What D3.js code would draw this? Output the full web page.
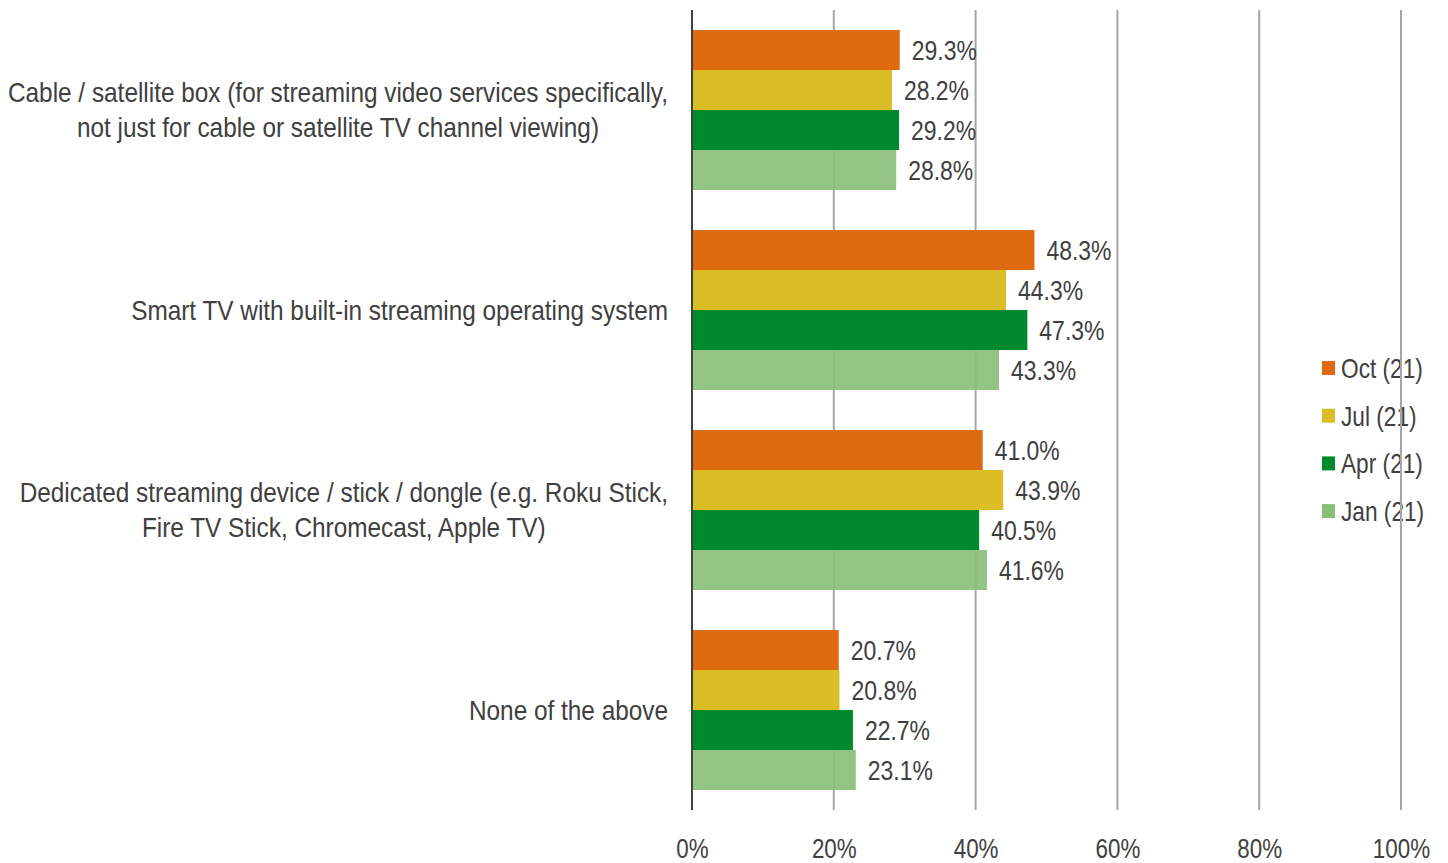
<!doctype HTML>
<html>
<head>
    <style>
        body { margin: 0; background: #fff; }
        text { font-family: "Liberation Sans", Arial, sans-serif; fill: #404040; }
    </style>
    <script src="https://d3js.org/d3.v7.min.js"></script>
</head>
<body>
<div id="chart"></div>
<script>

    // data
    var categories = [
        ["Cable / satellite box (for streaming video services specifically,", "not just for cable or satellite TV channel viewing)"],
        ["Smart TV with built-in streaming operating system"],
        ["Dedicated streaming device / stick / dongle (e.g. Roku Stick,", "Fire TV Stick, Chromecast, Apple TV)"],
        ["None of the above"]
    ];
    var series = ["Oct (21)", "Jul (21)", "Apr (21)", "Jan (21)"];
    var octValues = [29.3, 48.3, 41.0, 20.7];
    var julValues = [28.2, 44.3, 43.9, 20.8];
    var aprValues = [29.2, 47.3, 40.5, 22.7];
    var janValues = [28.8, 43.3, 41.6, 23.1];
    var ticks = [0, 20, 40, 60, 80, 100];
    var colors = ["#e06a10", "#dbbd25", "#008a2e", "#8abf78"];

    var allValues = [octValues, julValues, aprValues, janValues];

    // the original font is a narrow one, so squeeze Liberation Sans sideways
    var fontSize = "28px";

    var svg = d3.select("#chart").append("svg")
        .attr("width", 1448)
        .attr("height", 863);

    var x = d3.scaleLinear().domain([0, 100]).range([692, 1401]);
    var y = d3.scaleBand()
        .domain(d3.range(categories.length))
        .range([10, 810])
        .paddingInner(0.2)
        .paddingOuter(0.1);
    var ySub = d3.scaleBand()
        .domain(series)
        .range([0, y.bandwidth()]);
    var color = d3.scaleOrdinal().domain(series).range(colors);

    // legend
    var legend = svg.append("g")
        .selectAll("g")
        .data(series)
        .join("g")
        .attr("transform", (d, i) => `translate(1322, ${368 + i * 47.7})`);
    legend.append("rect")
        .attr("x", 0).attr("y", -7)
        .attr("width", 13).attr("height", 14)
        .attr("fill", d => color(d));
    legend.append("text")
        .attr("transform", "translate(19, 0) scale(0.81, 1)")
        .attr("dy", "0.35em")
        .attr("font-size", fontSize)
        .text(d => d);

    // gridlines
    svg.append("g")
        .selectAll("line")
        .data(ticks.slice(1))
        .join("line")
        .attr("x1", d => x(d)).attr("x2", d => x(d))
        .attr("y1", 10).attr("y2", 810)
        .attr("stroke", "#a6a6a6")
        .attr("stroke-width", 2);

    // bars
    var rows = [];
    categories.forEach(function(c, ci) {
        series.forEach(function(s, si) {
            rows.push({cat: ci, key: s, value: allValues[si][ci]});
        });
    });

    svg.append("g")
        .selectAll("rect")
        .data(rows)
        .join("rect")
        .attr("x", x(0))
        .attr("y", d => y(d.cat) + ySub(d.key))
        .attr("width", d => x(d.value) - x(0))
        .attr("height", ySub.bandwidth())
        .attr("fill", d => color(d.key))
        .attr("fill-opacity", d => d.key === "Jan (21)" ? 0.92 : 1);

    svg.append("g")
        .selectAll("text")
        .data(rows)
        .join("text")
        .attr("transform", d => `translate(${x(d.value) + 12}, ${y(d.cat) + ySub(d.key) + ySub.bandwidth() / 2}) scale(0.82, 1)`)
        .attr("dy", "0.35em")
        .attr("font-size", fontSize)
        .text(d => d.value.toFixed(1) + "%");

    // zero axis
    svg.append("line")
        .attr("x1", x(0)).attr("x2", x(0))
        .attr("y1", 10).attr("y2", 810)
        .attr("stroke", "#404040")
        .attr("stroke-width", 2);

    // category labels: block right-aligned, lines centred inside the block
    var catText = svg.append("g")
        .selectAll("text")
        .data(categories)
        .join("text")
        .attr("text-anchor", "middle")
        .attr("font-size", fontSize)
        .attr("transform", (d, i) => `translate(668, ${y(i) + y.bandwidth() / 2}) scale(0.87, 1)`);
    catText.selectAll("tspan")
        .data(d => d.map((line, k) => ({line: line, k: k, n: d.length})))
        .join("tspan")
        .attr("y", d => (d.k - (d.n - 1) / 2) * 35)
        .attr("dy", "0.35em")
        .text(d => d.line);
    catText.each(function() {
        var spans = d3.select(this).selectAll("tspan");
        var widest = d3.max(spans.nodes(), n => n.getComputedTextLength());
        spans.attr("x", -widest / 2);
    });

    // x axis tick labels
    var xAxis = svg.append("g")
        .attr("transform", "translate(0, 826)")
        .call(d3.axisBottom(x).tickValues(ticks).tickSize(0).tickPadding(12).tickFormat(d => d + "%"));
    xAxis.select(".domain").remove();
    xAxis.selectAll("text")
        .attr("font-size", fontSize)
        .attr("font-family", null)
        .attr("fill", "#404040")
        .attr("transform", "scale(0.8, 1)");

</script>
</body>
</html>
